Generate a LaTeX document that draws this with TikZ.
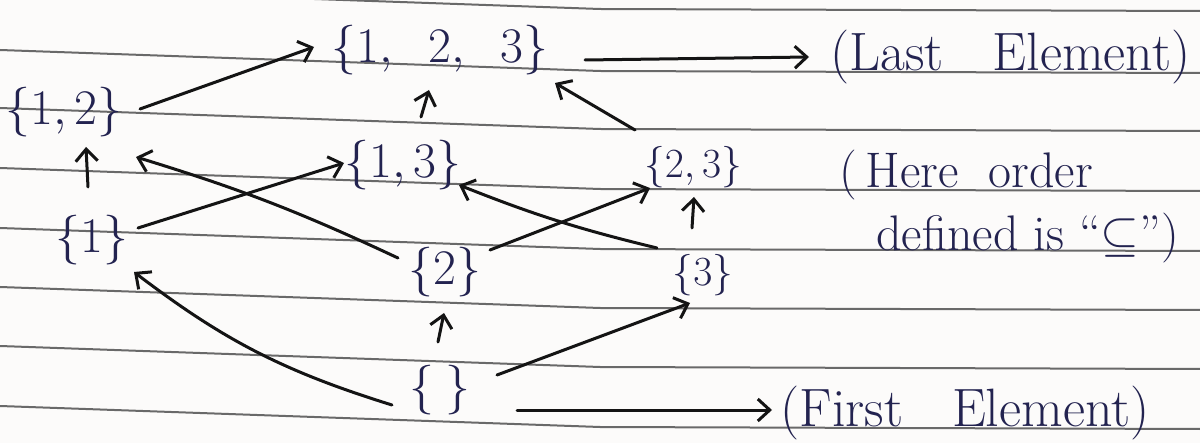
\documentclass[tikz,border=0pt]{standalone}
\usetikzlibrary{arrows.meta,calc}
\definecolor{ink}{RGB}{35,35,80}
\definecolor{pen}{RGB}{20,20,20}
\definecolor{rulecol}{RGB}{105,105,105}
\definecolor{paperbg}{RGB}{252,251,250}
\begin{document}
\begin{tikzpicture}[x=0.5pt,y=-0.5pt,
  set/.style={inner sep=0pt, text=ink, font=\fontsize{25}{30}\selectfont},
  smallset/.style={set, font=\fontsize{22}{26}\selectfont},
  note/.style={inner sep=0pt, text=ink, anchor=west, font=\fontsize{27}{32}\selectfont},
  arr/.style={draw=pen, line width=1.5pt, line cap=round, -{Straight Barb[length=6pt,width=11pt]}},
  paperline/.style={draw=rulecol, line width=1pt}]
\fill[paperbg] (0,0) rectangle (1200,443);
\useasboundingbox (0,0) rectangle (1200,443);
% ruled paper
\foreach \y in {-12,50,108,168,228,287,346,406}{
  \draw[paperline] (0,\y) -- (600,\y+21) -- (1200,\y+23);
}
% sets
\node[set] (n123) at (440,50) {$\{1,\;\; 2,\;\; 3\}$};
\node[set] (n12) at (64,112) {$\{1,2\}$};
\node[set] (n13) at (403,165) {$\{1,3\}$};
\node[smallset] (n23) at (693,167) {$\{2,3\}$};
\node[set] (n1) at (92,240) {$\{1\}$};
\node[set] (n2) at (445,272) {$\{2\}$};
\node[smallset] (n3) at (703,275) {$\{3\}$};
\node[set] (n0) at (440,390) {$\{\hspace{6pt}\}$};
% notes
\node[note] (last) at (830,57) {(Last\ \ \ Element)};
\node[note] (first) at (780,413) {(First\ \ \ Element)};
\node[note, font=\fontsize{25}{30}\selectfont] (hereA) at (839,175) {(\,Here\ \ order};
\node[note, font=\fontsize{25}{30}\selectfont] (hereB) at (876,238) {defined is ``$\subseteq$'')};
% connectors
\draw[arr] ($(n12)+(76,-3)$) -- ($(n123)+(-126,-3)$);
\draw[arr] ($(n13)+(18,-48)$) -- ($(n123)+(-11,40)$);
\draw[arr] ($(n23)+(-58,-37)$) -- ($(n123)+(115,33)$);
\draw[arr] ($(n123)+(145,10)$) -- ($(last.west)+(-21,0)$);
\draw[arr] ($(n1)+(-4,-53)$) -- ($(n12)+(22,35)$);
\draw[arr] ($(n1)+(46,-12)$) -- ($(n13)+(-59,-2)$);
\draw[arr] ($(n2)+(-47,-14)$) to[bend right=4] ($(n12)+(72,45)$);
\draw[arr] ($(n2)+(45,-22)$) -- ($(n23)+(-43,21)$);
\draw[arr] ($(n3)+(-46,-27)$) to[bend left=4] ($(n13)+(56,20)$);
\draw[arr] ($(n3)+(-11,-47)$) -- ($(n23)+(1,30)$);
\draw[arr] ($(n0)+(-48,15)$) to[bend left=10] ($(n1)+(42,32)$);
\draw[arr] ($(n0)+(-2,-48)$) -- ($(n2)+(-1,41)$);
\draw[arr] ($(n0)+(57,-15)$) -- ($(n3)+(-13,28)$);
\draw[arr] ($(n0)+(77,20)$) -- ($(first.west)+(-8,-3)$);
\end{tikzpicture}
\end{document}
